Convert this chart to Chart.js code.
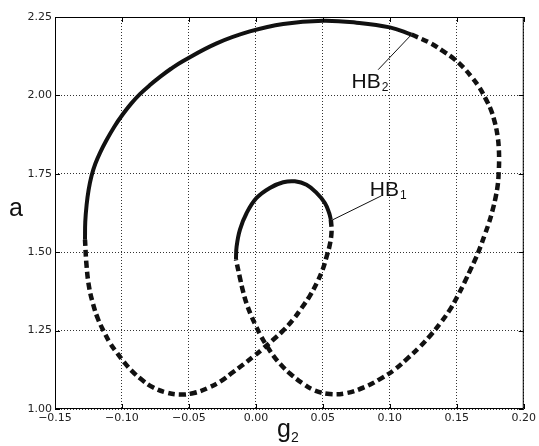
<!DOCTYPE html>
<html>
<head>
<meta charset="utf-8">
<script src="https://cdn.jsdelivr.net/npm/chart.js@4.4.1/dist/chart.umd.min.js"></script>
<style>
  html, body { margin: 0; padding: 0; background: #fff; }
  canvas { display: block; }
</style>
</head>
<body>
<canvas id="bifChart" width="539" height="446"></canvas>
<script>
// axis ticks
const xTicks = [-0.15, -0.10, -0.05, 0.00, 0.05, 0.10, 0.15, 0.20];
const yTicks = [1.00, 1.25, 1.50, 1.75, 2.00, 2.25];

// outer branch, solid (stable) part, up to HB2
const outerSolidX = [-0.1276, -0.1274, -0.1264, -0.1249, -0.1227, -0.1199, -0.1164, -0.1116, -0.1056, -0.0995, -0.0933, -0.0866, -0.0791, -0.0716, -0.0634, -0.0543, -0.0293, -0.0045, 0.0204, 0.0502, 0.0751, 0.1000, 0.1162];
const outerSolidY = [1.540, 1.597, 1.651, 1.699, 1.744, 1.782, 1.817, 1.857, 1.901, 1.939, 1.973, 2.004, 2.033, 2.059, 2.085, 2.110, 2.166, 2.204, 2.228, 2.238, 2.232, 2.217, 2.194];

// from HB2 round the right side and the bottom, up to the inner solid arc
const rightDashX = [0.1162, 0.1311, 0.1398, 0.1478, 0.1547, 0.1610, 0.1666, 0.1716, 0.1754, 0.1784, 0.1804, 0.1813, 0.1816, 0.1813, 0.1806, 0.1789, 0.1766, 0.1741, 0.1709, 0.1677, 0.1642,
    0.1604, 0.1560, 0.1507, 0.1448, 0.1381, 0.1306, 0.1224, 0.1134, 0.1037, 0.0933, 0.0813, 0.0679, 0.0552, 0.0440, 0.0351, 0.0254, 0.0187, 0.0134, 0.0082, 0.0037, 0.0000, -0.0037, -0.0071, -0.0097, -0.0119, -0.0142, -0.0149];
const rightDashY = [2.194, 2.165, 2.141, 2.117, 2.090, 2.059, 2.027, 1.989, 1.955, 1.914, 1.872, 1.836, 1.795, 1.755, 1.715, 1.673, 1.632, 1.595, 1.556, 1.518, 1.481,
    1.446, 1.406, 1.361, 1.316, 1.276, 1.236, 1.198, 1.162, 1.126, 1.097, 1.070, 1.051, 1.048, 1.059, 1.081, 1.113, 1.141, 1.168, 1.201, 1.233, 1.265, 1.300, 1.338, 1.377, 1.418, 1.463, 1.476];

// inner solid arc, ends at HB1
const innerSolidX = [-0.0149, -0.0144, -0.0119, -0.0069, 0.0005, 0.0104, 0.0204, 0.0291, 0.0378, 0.0453, 0.0515, 0.0547, 0.0560];
const innerSolidY = [1.476, 1.518, 1.572, 1.625, 1.673, 1.705, 1.723, 1.726, 1.715, 1.689, 1.657, 1.625, 1.603];

// from HB1 down across and round the bottom-left, back to the outer branch
const leftDashX = [0.0560, 0.0565, 0.0552, 0.0528, 0.0498, 0.0455, 0.0403, 0.0343, 0.0276, 0.0201, 0.0127, 0.0052, -0.0022, -0.0097, -0.0172, -0.0261, -0.0358, -0.0463, -0.0567, -0.0672, -0.0769, -0.0851, -0.0925, -0.0985, -0.1037, -0.1090, -0.1134, -0.1179, -0.1216, -0.1246, -0.1265, -0.1276];
const leftDashY = [1.603, 1.566, 1.524, 1.486, 1.444, 1.402, 1.361, 1.323, 1.284, 1.249, 1.220, 1.192, 1.166, 1.141, 1.117, 1.089, 1.067, 1.051, 1.046, 1.053, 1.069, 1.093, 1.121, 1.150, 1.179, 1.211, 1.246, 1.287, 1.335, 1.390, 1.460, 1.540];

function pts(xs, ys) {
    return xs.map((v, i) => ({ x: v, y: ys[i] }));
}

function fmt(v) {
    if (Math.abs(v) < 1e-9) v = 0;
    return v.toFixed(2).replace('-', '\u2212');
}

// frame, inward ticks, axis names and HB labels
const decor = {
    id: 'decor',
    afterDraw(chart) {
        const ctx = chart.ctx;
        const a = chart.chartArea;
        const xs = chart.scales.x, ys = chart.scales.y;
        ctx.save();
        ctx.strokeStyle = '#000';
        ctx.lineWidth = 1;
        ctx.strokeRect(a.left + 0.5, a.top + 0.5, a.right - a.left - 1, a.bottom - a.top - 1);
        ctx.beginPath();
        xTicks.forEach(v => {
            const p = Math.round(xs.getPixelForValue(v)) + 0.5;
            ctx.moveTo(p, a.bottom); ctx.lineTo(p, a.bottom - 5);
            ctx.moveTo(p, a.top); ctx.lineTo(p, a.top + 5);
        });
        yTicks.forEach(v => {
            const p = Math.round(ys.getPixelForValue(v)) + 0.5;
            ctx.moveTo(a.left, p); ctx.lineTo(a.left + 5, p);
            ctx.moveTo(a.right, p); ctx.lineTo(a.right - 5, p);
        });
        ctx.stroke();

        // axis names
        ctx.fillStyle = '#111';
        ctx.textBaseline = 'alphabetic';
        ctx.font = '25px "Liberation Sans", Arial, sans-serif';
        ctx.fillText('a', 9, 216);
        ctx.fillText('g', 277, 437);
        ctx.font = '14px "Liberation Sans", Arial, sans-serif';
        ctx.fillText('2', 291, 442);

        // HB labels with leader lines
        const labels = [
            { name: 'HB', sub: '2', from: [0.1162, 2.194], to: [0.0913, 2.082], text: [0.0714, 2.024] },
            { name: 'HB', sub: '1', from: [0.0572, 1.603], to: [0.0938, 1.680], text: [0.0851, 1.678] }
        ];
        ctx.lineWidth = 1;
        ctx.strokeStyle = '#111';
        labels.forEach(l => {
            ctx.beginPath();
            ctx.moveTo(xs.getPixelForValue(l.from[0]), ys.getPixelForValue(l.from[1]));
            ctx.lineTo(xs.getPixelForValue(l.to[0]), ys.getPixelForValue(l.to[1]));
            ctx.stroke();
            const tx = xs.getPixelForValue(l.text[0]);
            const ty = ys.getPixelForValue(l.text[1]);
            ctx.font = '21px "Liberation Sans", Arial, sans-serif';
            ctx.fillText(l.name, tx, ty);
            const w = ctx.measureText(l.name).width;
            ctx.font = '12px "Liberation Sans", Arial, sans-serif';
            ctx.fillText(l.sub, tx + w + 1, ty + 3);
        });
        ctx.restore();
    }
};

const lineColor = '#111';

new Chart(document.getElementById('bifChart'), {
    type: 'scatter',
    data: {
        datasets: [
            { data: pts(outerSolidX, outerSolidY), borderColor: lineColor, borderWidth: 4, showLine: true, pointRadius: 0, tension: 0.4 },
            { data: pts(rightDashX, rightDashY), borderColor: lineColor, borderWidth: 4.5, borderDash: [7, 4], showLine: true, pointRadius: 0, tension: 0.4 },
            { data: pts(innerSolidX, innerSolidY), borderColor: lineColor, borderWidth: 4, showLine: true, pointRadius: 0, tension: 0.4 },
            { data: pts(leftDashX, leftDashY), borderColor: lineColor, borderWidth: 4.5, borderDash: [7, 4], showLine: true, pointRadius: 0, tension: 0.4 }
        ]
    },
    options: {
        responsive: false,
        animation: false,
        layout: { padding: { top: 17, right: 15, left: 0, bottom: 0 } },
        plugins: { legend: { display: false }, tooltip: { enabled: false } },
        scales: {
            x: {
                type: 'linear',
                min: -0.15,
                max: 0.20,
                afterFit(scale) { scale.height = 37; },
                afterBuildTicks(scale) { scale.ticks = xTicks.map(v => ({ value: v })); },
                ticks: {
                    callback: fmt,
                    padding: 3,
                    maxRotation: 0,
                    color: '#222',
                    font: { family: '"DejaVu Sans"', size: 11 }
                },
                grid: { color: 'rgba(0,0,0,0.8)', lineWidth: 1, drawTicks: false },
                border: { display: false, dash: [1, 2] }
            },
            y: {
                type: 'linear',
                min: 1.0,
                max: 2.25,
                afterFit(scale) { scale.width = 55; },
                afterBuildTicks(scale) { scale.ticks = yTicks.map(v => ({ value: v })); },
                ticks: {
                    callback: fmt,
                    padding: 3,
                    color: '#222',
                    font: { family: '"DejaVu Sans"', size: 11 }
                },
                grid: { color: 'rgba(0,0,0,0.8)', lineWidth: 1, drawTicks: false },
                border: { display: false, dash: [1, 2] }
            }
        }
    },
    plugins: [decor]
});
</script>
</body>
</html>
